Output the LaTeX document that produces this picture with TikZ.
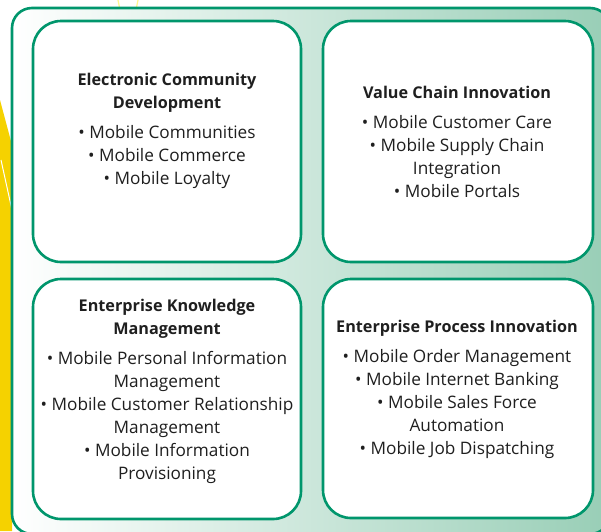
\documentclass[tikz,border=0pt]{standalone}
\usepackage{fontspec}
\setmainfont{Open Sans}
\definecolor{mgreen}{RGB}{0,150,108}
\definecolor{myellow}{RGB}{245,210,0}
\definecolor{gright}{RGB}{152,206,182}
\newcommand{\ttl}[1]{{\fontsize{16.2}{23}\selectfont\bfseries #1}}
\begin{document}
\begin{tikzpicture}[x=1pt,y=-1pt,
  boxstyle/.style={draw=mgreen, line width=2.6pt, fill=white, rounded corners=28pt},
  txt/.style={align=center, font=\fontsize{17.2}{23}\selectfont, text=black!88, inner sep=0pt},
  ray/.style={draw=yellow!45, line width=1.2pt}]
\useasboundingbox (0,0) rectangle (601,531);
\fill[white] (0,0) rectangle (601,531);
% left decoration
\fill[myellow] (0,100) -- (12,145) -- (12,531) -- (0,531) -- cycle;
\draw[ray] (118,0) -- (120,10);
\draw[ray] (138,0) -- (136,10);
\draw[white, line width=1pt] (1,160) -- (12,210);
\begin{scope}
\clip (0,0) rectangle (601,531);
\draw[draw=mgreen, line width=2.6pt, rounded corners=20pt, left color=white, right color=gright]
  (12,8) rectangle (610,534);
\end{scope}
% inner boxes
\draw[boxstyle] (33,21) rectangle (301,262);
\draw[boxstyle] (323,21) rectangle (593,262);
\draw[boxstyle] (33,279) rectangle (301,519);
\draw[boxstyle] (323,279) rectangle (593,518);
% texts
\node[txt] (t1) at (167,131) {\ttl{Electronic Community}\\\ttl{Development}\\[7pt]
  • Mobile Communities\\• Mobile Commerce\\• Mobile Loyalty};
\node[txt] (t2) at (457,142) {\ttl{Value Chain Innovation}\\[7pt]
  • Mobile Customer Care\\• Mobile Supply Chain\\Integration\\• Mobile Portals};
\node[txt] (t3) at (167,391) {\ttl{Enterprise Knowledge}\\\ttl{Management}\\[7pt]
  • Mobile Personal Information\\Management\\• Mobile Customer Relationship\\Management\\• Mobile Information\\Provisioning};
\node[txt] (t4) at (457,389) {\ttl{Enterprise Process Innovation}\\[7pt]
  • Mobile Order Management\\• Mobile Internet Banking\\• Mobile Sales Force\\Automation\\• Mobile Job Dispatching};
\end{tikzpicture}
\end{document}
